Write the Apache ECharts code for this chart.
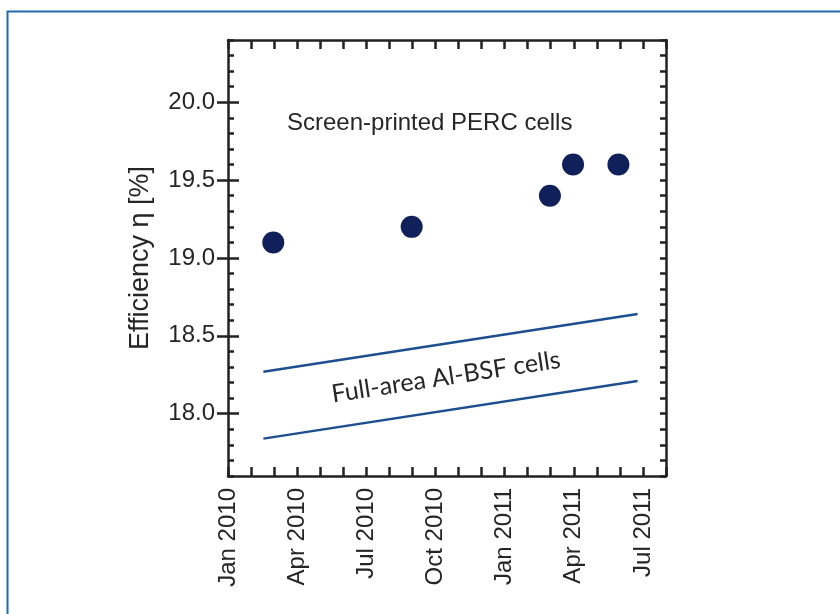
<!DOCTYPE html>
<html><head><meta charset="utf-8">
<script src="https://cdn.jsdelivr.net/npm/echarts@6/dist/echarts.min.js"></script>
<style>html,body{margin:0;padding:0;background:#fff}#c{width:840px;height:614px}</style>
</head><body><div id="c"></div>
<script>
// ---- data ----
const xTickLabels = ['Jan 2010','Apr 2010','Jul 2010','Oct 2010','Jan 2011','Apr 2011','Jul 2011'];
const yTickLabels = ['18.0','18.5','19.0','19.5','20.0'];
const yMajorValues = [18.0, 18.5, 19.0, 19.5, 20.0];
const percDates = ['2010-02-28','2010-08-31','2011-02-28','2011-03-31','2011-05-30'];
const percEff = [19.1, 19.2, 19.4, 19.6, 19.6];
const bsfDates = ['2010-02-16','2011-06-24'];
const bsfUpper = [18.27, 18.64];
const bsfLower = [17.84, 18.21];
const yName = 'Efficiency η [%]';
const percLabel = 'Screen-printed PERC cells';
const bsfLabel = 'Full-area Al-BSF cells';

// months since Jan 2010 (fractional, by day of month)
function monthIdx(s){
  const p = s.split('-').map(Number);
  const dim = new Date(p[0], p[1], 0).getDate();
  return (p[0]-2010)*12 + (p[1]-1) + (p[2]-1)/dim;
}

const FONT = '"Liberation Sans", Arial, sans-serif';
const AXC = '#222222';
const TXT = '#262626';
const X_MIN = 0, X_MAX = 19, Y_MIN = 17.6, Y_MAX = 20.4;

function xFmt(v){
  const k = Math.round(v);
  if (Math.abs(v-k) < 1e-6 && k % 3 === 0) return xTickLabels[k/3] || '';
  return '';
}
function yFmt(v){
  const k = Math.round(v*10);
  if (k % 5 === 0) return yTickLabels[(k-180)/5] || '';
  return '';
}

const chart = echarts.init(document.getElementById('c'), null, {renderer:'canvas'});
chart.setOption({
  animation: false,
  backgroundColor: '#ffffff',
  grid: {left: 228, right: 174, top: 40, bottom: 138, outerBoundsMode: 'none'},
  xAxis: [
    {type:'value', position:'bottom', min:X_MIN, max:X_MAX, interval:1,
     axisLine:{show:true, onZero:false, lineStyle:{color:AXC, width:2.5}},
     axisTick:{show:true, inside:true, length:9, lineStyle:{color:AXC, width:2.5}},
     axisLabel:{show:true, rotate:90, margin:12, formatter:xFmt, color:TXT, fontSize:24, fontFamily:FONT},
     splitLine:{show:false}},
    {type:'value', position:'top', min:X_MIN, max:X_MAX, interval:1,
     axisLine:{show:true, onZero:false, lineStyle:{color:AXC, width:2.5}},
     axisTick:{show:true, inside:true, length:9, lineStyle:{color:AXC, width:2.5}},
     axisLabel:{show:false}, splitLine:{show:false}}
  ],
  yAxis: [
    {type:'value', position:'left', min:Y_MIN, max:Y_MAX, interval:0.1,
     name: yName, nameLocation:'middle', nameGap:74, nameRotate:90,
     nameTextStyle:{color:TXT, fontSize:27, fontFamily:FONT},
     axisLine:{show:true, onZero:false, lineStyle:{color:AXC, width:2.5}},
     axisTick:{show:true, inside:true, length:6, lineStyle:{color:AXC, width:2.5}},
     axisLabel:{show:true, margin:13, formatter:yFmt, color:TXT, fontSize:24, fontFamily:FONT},
     splitLine:{show:false}},
    {type:'value', position:'left', min:Y_MIN, max:Y_MAX,
     axisLine:{show:false},
     axisTick:{show:true, inside:true, length:11, customValues:yMajorValues, lineStyle:{color:AXC, width:2.5}},
     axisLabel:{show:false}, splitLine:{show:false}},
    {type:'value', position:'right', min:Y_MIN, max:Y_MAX, interval:0.1,
     axisLine:{show:true, onZero:false, lineStyle:{color:AXC, width:2.5}},
     axisTick:{show:true, inside:true, length:6, lineStyle:{color:AXC, width:2.5}},
     axisLabel:{show:false}, splitLine:{show:false}},
    {type:'value', position:'right', min:Y_MIN, max:Y_MAX,
     axisLine:{show:false},
     axisTick:{show:true, inside:true, length:11, customValues:yMajorValues, lineStyle:{color:AXC, width:2.5}},
     axisLabel:{show:false}, splitLine:{show:false}}
  ],
  series: [
    {type:'scatter', name:'PERC', xAxisIndex:0, yAxisIndex:0, symbol:'circle', symbolSize:22,
     itemStyle:{color:'#10205a', opacity:1},
     data: percDates.map((d,i)=>[monthIdx(d), percEff[i]])},
    {type:'line', name:'Al-BSF upper', xAxisIndex:0, yAxisIndex:0, symbol:'none',
     lineStyle:{color:'#1d4f8e', width:2.5},
     data: bsfDates.map((d,i)=>[monthIdx(d), bsfUpper[i]])},
    {type:'line', name:'Al-BSF lower', xAxisIndex:0, yAxisIndex:0, symbol:'none',
     lineStyle:{color:'#1d4f8e', width:2.5},
     data: bsfDates.map((d,i)=>[monthIdx(d), bsfLower[i]])}
  ],
  graphic: [
    {type:'rect', left:5, top:9, shape:{width:860, height:640}, silent:true,
     style:{fill:'none', stroke:'#2468ad', lineWidth:2}},
    {type:'text', x:287, y:123, silent:true,
     style:{text:percLabel, fill:TXT, font:'24px "Liberation Sans", Arial, sans-serif', textAlign:'left', textVerticalAlign:'middle'}},
    {type:'text', x:446, y:377, rotation: 8.7*Math.PI/180, silent:true,
     style:{text:bsfLabel, fill:TXT, font:'25px Lato, "Open Sans", sans-serif', textAlign:'center', textVerticalAlign:'middle'}}
  ]
});
</script></body></html>
